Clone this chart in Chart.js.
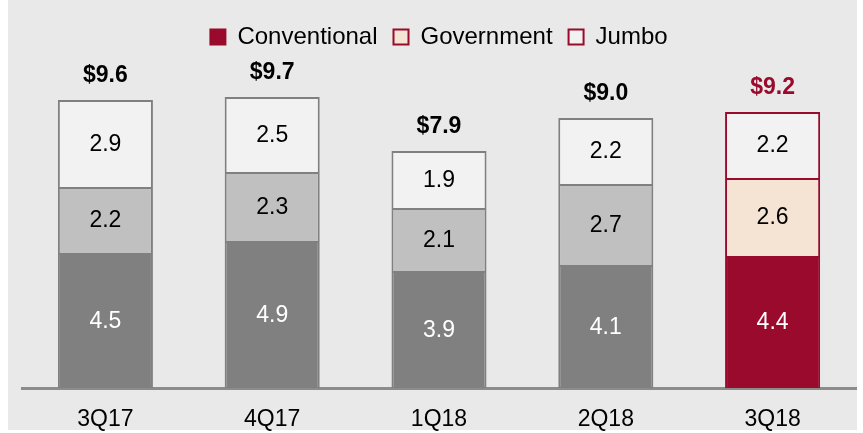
<!DOCTYPE html>
<html>
<head>
    <title>Originations by Product</title>
    <script src="https://cdn.jsdelivr.net/npm/chart.js"></script>
    <style>
        body { margin: 0; background: #ffffff; }
    </style>
</head>
<body>
    <canvas id="originChart" width="863" height="433"></canvas>

    <script>
        // Quarters and volumes ($ billions) per product
        const quarters = ['3Q17', '4Q17', '1Q18', '2Q18', '3Q18'];
        const conventional = [4.5, 4.9, 3.9, 4.1, 4.4];
        const government = [2.2, 2.3, 2.1, 2.7, 2.6];
        const jumbo = [2.9, 2.5, 1.9, 2.2, 2.2];

        const RED = '#990A2C';
        const GRAY = '#808080';
        const FONT = "'Liberation Sans', Arial, sans-serif";

        // last quarter is highlighted in red tones
        function perBar(base, last) {
            return quarters.map((q, i) => i === quarters.length - 1 ? last : base);
        }

        // Light gray panel behind the chart
        const panelBg = {
            id: 'panelBg',
            beforeDraw(chart) {
                const ctx = chart.ctx;
                ctx.save();
                ctx.fillStyle = '#E9E9E9';
                ctx.fillRect(8, 0, 849, 430);
                ctx.restore();
            }
        };

        // Segment values inside bars and totals on top
        const barLabels = {
            id: 'barLabels',
            afterDatasetsDraw(chart) {
                const ctx = chart.ctx;
                ctx.save();
                ctx.textAlign = 'center';
                ctx.textBaseline = 'middle';
                chart.data.datasets.forEach((ds, di) => {
                    const meta = chart.getDatasetMeta(di);
                    meta.data.forEach((bar, i) => {
                        ctx.font = '23px ' + FONT;
                        ctx.fillStyle = di === 0 ? '#FFFFFF' : '#000000';
                        ctx.fillText(ds.data[i].toFixed(1), bar.x, (bar.y + bar.base) / 2 + 1);
                    });
                });
                const topMeta = chart.getDatasetMeta(chart.data.datasets.length - 1);
                topMeta.data.forEach((bar, i) => {
                    const total = conventional[i] + government[i] + jumbo[i];
                    ctx.font = 'bold 23px ' + FONT;
                    ctx.fillStyle = i === quarters.length - 1 ? RED : '#000000';
                    ctx.fillText('$' + total.toFixed(1), bar.x, bar.y - 24);
                });
                ctx.restore();
            }
        };

        const ctx = document.getElementById('originChart').getContext('2d');
        new Chart(ctx, {
            type: 'bar',
            data: {
                labels: quarters,
                datasets: [
                    {
                        label: 'Conventional',
                        data: conventional,
                        backgroundColor: perBar(GRAY, RED),
                        borderColor: perBar(GRAY, RED),
                        borderWidth: 2
                    },
                    {
                        label: 'Government',
                        data: government,
                        backgroundColor: perBar('#C0C0C0', '#F5E3D3'),
                        borderColor: perBar(GRAY, RED),
                        borderWidth: 2
                    },
                    {
                        label: 'Jumbo',
                        data: jumbo,
                        backgroundColor: perBar('#F2F2F2', '#F2F2F2'),
                        borderColor: perBar(GRAY, RED),
                        borderWidth: 2
                    }
                ]
            },
            options: {
                responsive: false,
                animation: false,
                categoryPercentage: 1,
                barPercentage: 0.57,
                layout: {
                    padding: { top: 9, left: 22, right: 7, bottom: 1 }
                },
                plugins: {
                    tooltip: { enabled: false },
                    legend: {
                        position: 'top',
                        labels: {
                            boxWidth: 15,
                            boxHeight: 15,
                            padding: 16,
                            color: '#000000',
                            font: { family: FONT, size: 24 },
                            generateLabels(chart) {
                                const fills = [RED, '#F5E3D3', '#F2F2F2'];
                                return chart.data.datasets.map((ds, i) => ({
                                    text: ds.label,
                                    fillStyle: fills[i],
                                    strokeStyle: RED,
                                    lineWidth: 2,
                                    fontColor: '#000000',
                                    datasetIndex: i
                                }));
                            }
                        }
                    }
                },
                scales: {
                    x: {
                        stacked: true,
                        grid: { display: false, drawTicks: false, tickLength: 0 },
                        border: { display: true, color: '#8C8C8C', width: 3 },
                        ticks: {
                            color: '#000000',
                            padding: 18,
                            font: { family: FONT, size: 23 }
                        },
                        // fixed band under the baseline for the quarter labels
                        afterFit(scale) {
                            scale.height = 44;
                        }
                    },
                    y: {
                        stacked: true,
                        display: false,
                        min: 0,
                        max: 10.97
                    }
                }
            },
            plugins: [panelBg, barLabels]
        });
    </script>
</body>
</html>
